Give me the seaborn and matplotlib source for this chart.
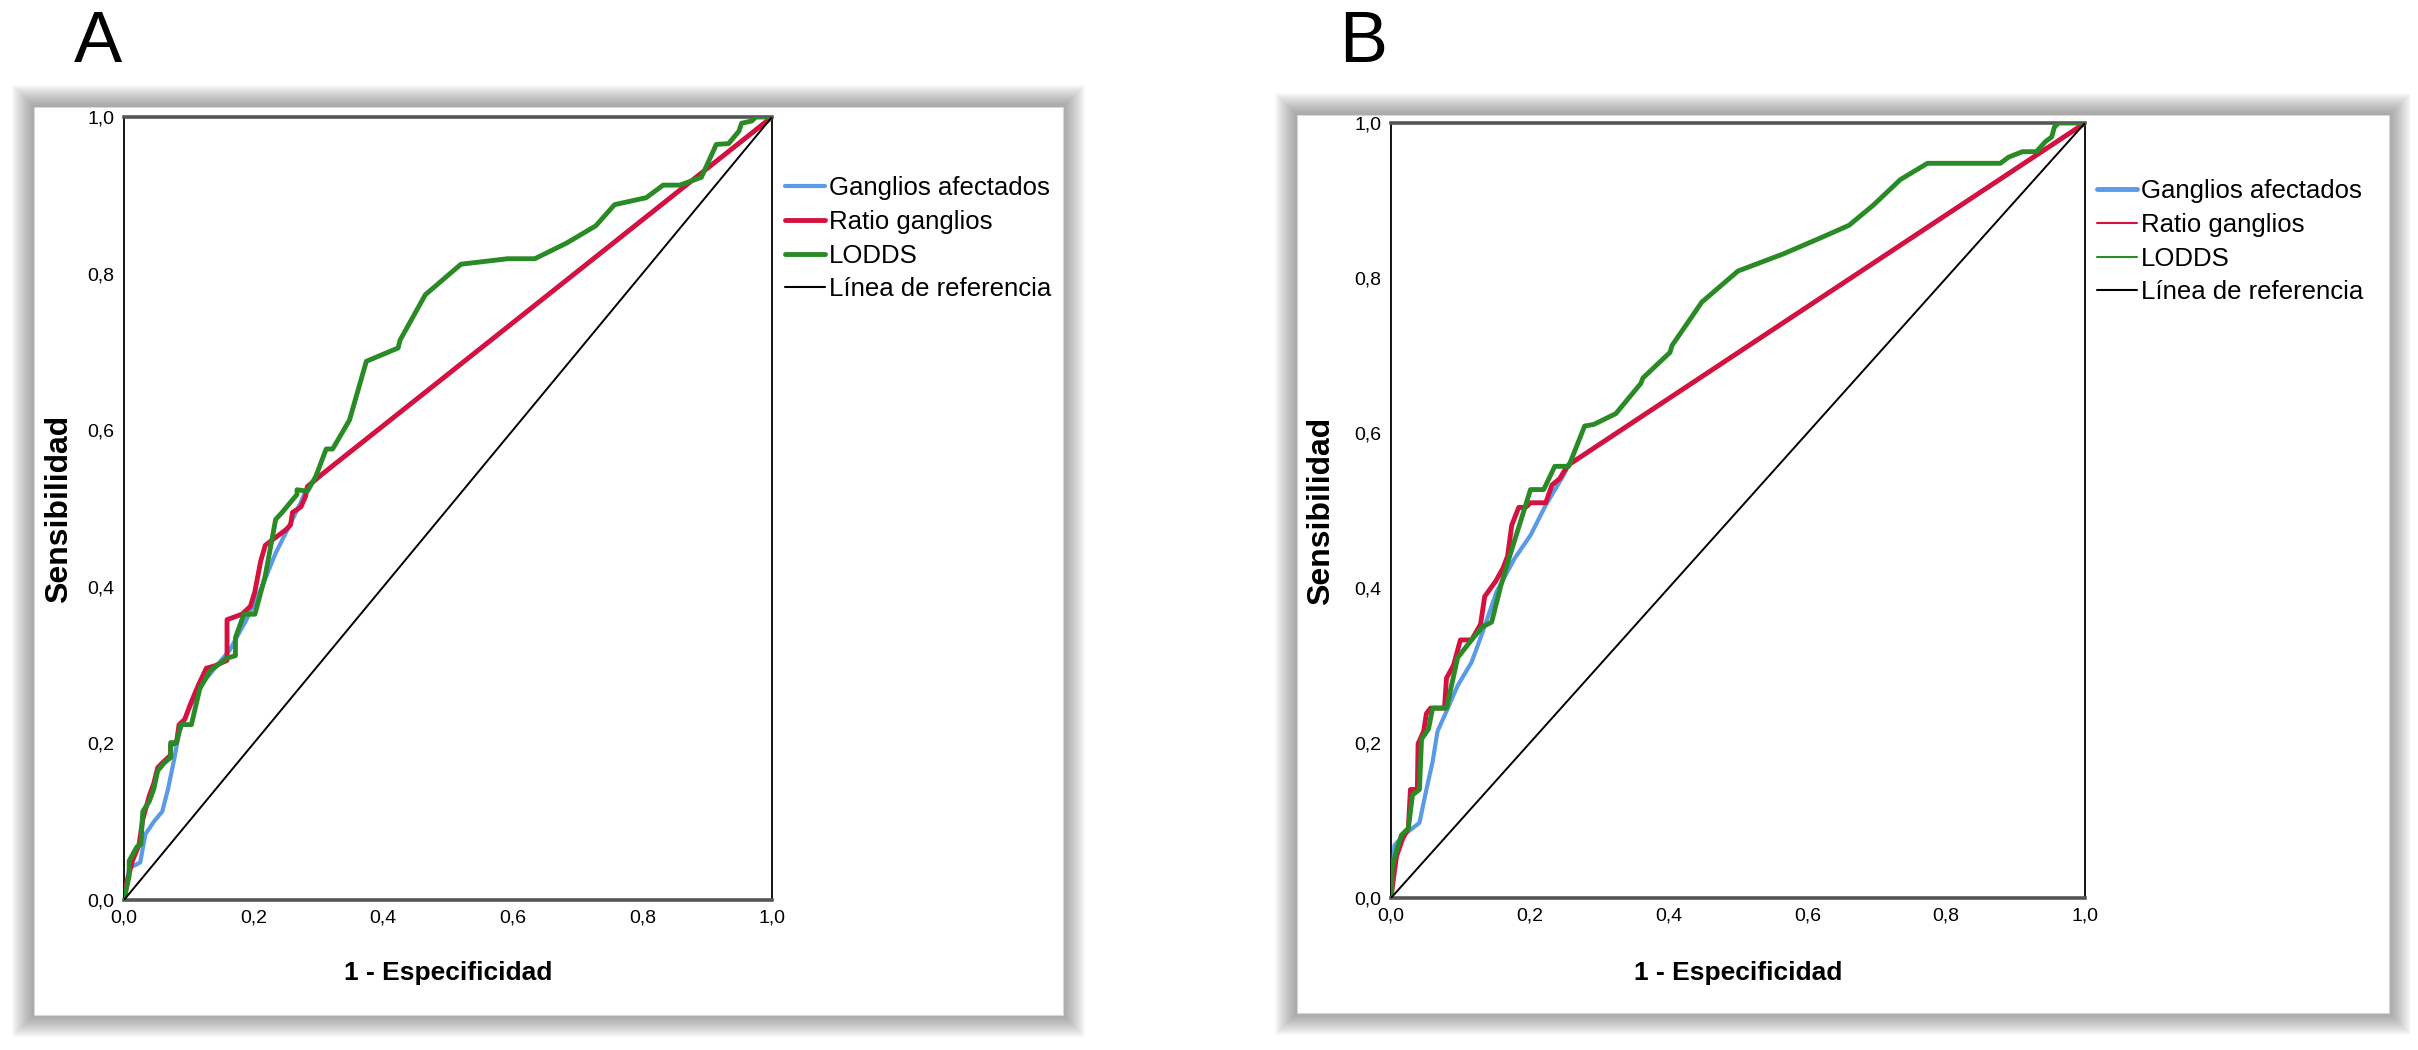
import pandas as pd
import matplotlib.pyplot as plt
import seaborn as sns
from matplotlib.lines import Line2D
from matplotlib.patches import Rectangle

# ---- data ----
# Panel A
a_ganglios_x = [0, 0.008, 0.016, 0.025, 0.033, 0.046, 0.059, 0.068, 0.078, 0.085,
                0.098, 0.117, 0.137, 0.163, 0.189, 0.215, 0.234, 0.254, 0.273, 0.283,
                0.306, 1.0]
a_ganglios_y = [0, 0.041, 0.044, 0.048, 0.084, 0.100, 0.113, 0.142, 0.182, 0.214,
                0.240, 0.273, 0.293, 0.319, 0.358, 0.404, 0.443, 0.476, 0.508, 0.528,
                0.544, 1.0]

a_ratio_x = [0, 0.003, 0.013, 0.023, 0.029, 0.039, 0.046, 0.052, 0.059, 0.072,
             0.072, 0.081, 0.085, 0.094, 0.101, 0.114, 0.127, 0.140, 0.159, 0.159,
             0.182, 0.195, 0.202, 0.211, 0.218, 0.234, 0.250, 0.257, 0.260, 0.273,
             0.280, 0.283, 0.306, 1.0]
a_ratio_y = [0, 0.018, 0.050, 0.070, 0.103, 0.133, 0.149, 0.169, 0.175, 0.185,
             0.198, 0.201, 0.224, 0.231, 0.247, 0.273, 0.296, 0.299, 0.306, 0.358,
             0.365, 0.375, 0.394, 0.433, 0.453, 0.463, 0.473, 0.479, 0.495, 0.502,
             0.515, 0.528, 0.544, 1.0]

a_lodds_x = [0, 0.008, 0.008, 0.020, 0.026, 0.029, 0.039, 0.046, 0.052, 0.062,
             0.072, 0.072, 0.081, 0.088, 0.104, 0.117, 0.133, 0.159, 0.172, 0.172,
             0.185, 0.202, 0.218, 0.234, 0.244, 0.267, 0.267, 0.283, 0.296, 0.312,
             0.322, 0.348, 0.374, 0.423, 0.426, 0.465, 0.520, 0.592, 0.634, 0.683,
             0.728, 0.757, 0.806, 0.832, 0.858, 0.891, 0.914, 0.933, 0.949, 0.953,
             0.969, 0.975, 1.0]
a_lodds_y = [0, 0.031, 0.050, 0.068, 0.071, 0.113, 0.126, 0.142, 0.165, 0.175,
             0.182, 0.201, 0.201, 0.224, 0.224, 0.270, 0.293, 0.309, 0.312, 0.335,
             0.365, 0.365, 0.414, 0.486, 0.495, 0.518, 0.524, 0.522, 0.541, 0.576,
             0.576, 0.613, 0.688, 0.705, 0.715, 0.773, 0.812, 0.819, 0.819, 0.839,
             0.861, 0.888, 0.897, 0.913, 0.913, 0.923, 0.965, 0.966, 0.982, 0.992,
             0.995, 1.0, 1.0]

# Panel B
b_ganglios_x = [0, 0.005, 0.018, 0.041, 0.051, 0.060, 0.067, 0.080, 0.096, 0.116,
                0.132, 0.152, 0.178, 0.201, 0.223, 0.249, 0.256, 1.0]
b_ganglios_y = [0, 0.068, 0.081, 0.097, 0.140, 0.176, 0.215, 0.241, 0.274, 0.304,
                0.343, 0.395, 0.438, 0.468, 0.507, 0.546, 0.559, 1.0]

b_ratio_x = [0, 0.004, 0.008, 0.017, 0.025, 0.028, 0.038, 0.039, 0.047, 0.051,
             0.057, 0.077, 0.080, 0.090, 0.100, 0.116, 0.129, 0.135, 0.151, 0.161,
             0.168, 0.174, 0.184, 0.194, 0.201, 0.223, 0.232, 0.243, 0.249, 0.256,
             1.0]
b_ratio_y = [0, 0.028, 0.054, 0.077, 0.090, 0.140, 0.140, 0.199, 0.215, 0.238,
             0.245, 0.245, 0.284, 0.300, 0.333, 0.333, 0.353, 0.389, 0.409, 0.425,
             0.441, 0.481, 0.504, 0.504, 0.510, 0.510, 0.533, 0.541, 0.550, 0.559,
             1.0]

b_lodds_x = [0, 0.002, 0.008, 0.015, 0.025, 0.031, 0.041, 0.044, 0.054, 0.060,
             0.080, 0.096, 0.116, 0.132, 0.145, 0.158, 0.171, 0.201, 0.220, 0.236,
             0.256, 0.279, 0.292, 0.324, 0.360, 0.363, 0.402, 0.405, 0.448, 0.500,
             0.565, 0.617, 0.660, 0.695, 0.734, 0.773, 0.878, 0.890, 0.910, 0.930,
             0.943, 0.952, 0.956, 0.962, 1.0]
b_lodds_y = [0, 0.041, 0.061, 0.081, 0.090, 0.133, 0.140, 0.205, 0.218, 0.245,
             0.245, 0.310, 0.333, 0.350, 0.356, 0.402, 0.441, 0.527, 0.527, 0.557,
             0.557, 0.609, 0.611, 0.625, 0.664, 0.671, 0.704, 0.713, 0.769, 0.809,
             0.831, 0.851, 0.868, 0.894, 0.927, 0.948, 0.948, 0.956, 0.963, 0.963,
             0.976, 0.982, 0.995, 1.0, 1.0]

ref_x = [0, 1]
ref_y = [0, 1]

series_names = ["Ganglios afectados", "Ratio ganglios", "LODDS", "Línea de referencia"]
tick_values = [0, 0.2, 0.4, 0.6, 0.8, 1.0]
tick_labels = ["0,0", "0,2", "0,4", "0,6", "0,8", "1,0"]

colors = ["#5a9ae6", "#d5123f", "#2a8a25", "black"]

sns.set_style("white")
plt.rcParams["font.family"] = ["Liberation Sans", "DejaVu Sans"]
plt.rcParams["text.color"] = "black"
plt.rcParams["xtick.color"] = "black"
plt.rcParams["ytick.color"] = "black"

W, H = 2418, 1050
fig = plt.figure(figsize=(W / 100, H / 100), dpi=100)
fig.patch.set_facecolor("white")


def px_rect(x0, y0, x1, y1):
    # pixel box (top-left origin) -> figure fraction
    return x0 / W, 1 - y1 / H, (x1 - x0) / W, (y1 - y0) / H


def framed_panel(x0, y0, x1, y1):
    # soft grey shadow around a white box
    for k in range(22, 0, -1):
        l, b, w, h = px_rect(x0 - k, y0 - k, x1 + k, y1 + k)
        fig.patches.append(Rectangle((l, b), w, h, transform=fig.transFigure,
                                     facecolor="#505050", edgecolor="none",
                                     alpha=0.026, zorder=-2))
    l, b, w, h = px_rect(x0, y0, x1, y1)
    fig.patches.append(Rectangle((l, b), w, h, transform=fig.transFigure,
                                 facecolor="white", edgecolor="#d8d8d8",
                                 linewidth=0.8, zorder=-1))


framed_panel(34, 107, 1063, 1015)
framed_panel(1297, 115, 2389, 1013)

panels = [
    dict(box=(124, 117, 772, 900), letter="A", letter_x=74,
         ylab_x=59, legend_xy=(785, 176), legend_lw=[3, 3.5, 3.5, 1.5],
         data=[(a_ganglios_x, a_ganglios_y), (a_ratio_x, a_ratio_y),
               (a_lodds_x, a_lodds_y)]),
    dict(box=(1391, 123, 2085, 898), letter="B", letter_x=1339,
         ylab_x=1321, legend_xy=(2097, 179), legend_lw=[3.5, 1.5, 1.5, 1.5],
         data=[(b_ganglios_x, b_ganglios_y), (b_ratio_x, b_ratio_y),
               (b_lodds_x, b_lodds_y)]),
]

curve_lw = [3, 3.5, 3.5]

for p in panels:
    ax = fig.add_axes(px_rect(*p["box"]))
    ax.set_zorder(2)
    for (xs, ys), col, lw in zip(p["data"], colors, curve_lw):
        sns.lineplot(x=xs, y=ys, sort=False, estimator=None, color=col,
                     linewidth=lw, ax=ax, zorder=3)
    sns.lineplot(x=ref_x, y=ref_y, sort=False, estimator=None, color="black",
                 linewidth=1.4, ax=ax, zorder=4)

    ax.set_xlim(0, 1)
    ax.set_ylim(0, 1)
    ax.set_xticks(tick_values)
    ax.set_xticklabels(tick_labels)
    ax.set_yticks(tick_values)
    ax.set_yticklabels(tick_labels)
    ax.tick_params(length=0, labelsize=14, pad=7)
    for side in ["left", "right"]:
        ax.spines[side].set_color("black")
        ax.spines[side].set_linewidth(1.3)
    for side in ["top", "bottom"]:
        ax.spines[side].set_color("#555555")
        ax.spines[side].set_linewidth(2.6)
    ax.set_xlabel("")
    ax.set_ylabel("")

    x0, y0, x1, y1 = p["box"]
    fig.text((x0 + x1) / 2 / W, 1 - 973 / H, "1 - Especificidad", ha="center",
             va="center", fontsize=19, fontweight="bold", zorder=5)
    fig.text(p["ylab_x"] / W, 1 - ((y0 + y1) / 2) / H, "Sensibilidad",
             rotation=90, ha="center", va="center", fontsize=23,
             fontweight="bold", zorder=5)
    fig.text(p["letter_x"] / W, 1 - 62 / H, p["letter"], ha="left",
             va="baseline", fontsize=52, zorder=5)

    handles = [Line2D([0], [0], color=c, lw=lw)
               for c, lw in zip(colors, p["legend_lw"])]
    lx, ly = p["legend_xy"]
    leg = fig.legend(handles, series_names, loc="upper left",
                     bbox_to_anchor=(lx / W, 1 - ly / H),
                     bbox_transform=fig.transFigure, frameon=False,
                     fontsize=18.5, handlelength=1.55, handletextpad=0.15,
                     labelspacing=0.38, borderpad=0, borderaxespad=0)
    leg.set_zorder(5)

fig.savefig("out.png", dpi=100, facecolor="white")
